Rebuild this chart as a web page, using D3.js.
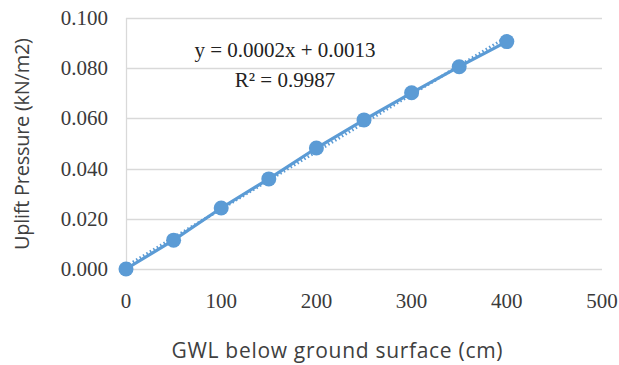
<!DOCTYPE html>
<html><head><meta charset="utf-8">
<script src="https://cdn.jsdelivr.net/npm/d3@7"></script>
<style>body{margin:0;background:#fff}svg{display:block}</style>
</head><body>
<svg id="c" width="619" height="365"></svg>
<script>
const gwl = [0, 50, 100, 150, 200, 250, 300, 350, 400];
const pressure = [0.000, 0.0115, 0.0243, 0.0359, 0.0482, 0.0594, 0.0702, 0.0806, 0.0906];
const xTicks = [0, 100, 200, 300, 400, 500];
const yTicks = [0, 0.02, 0.04, 0.06, 0.08, 0.1];
const eqLines = ["y = 0.0002x + 0.0013", "R² = 0.9987"];

const svg = d3.select("#c");
const x = d3.scaleLinear().domain([0, 500]).range([126, 602]);
const y = d3.scaleLinear().domain([0, 0.1]).range([269, 18]);
const color = "#5B9BD5";
const serif = "'Liberation Serif','Times New Roman',serif";
const sans = "'Open Sans','Noto Sans',sans-serif";

// gridlines
svg.append("g").selectAll("line").data(yTicks).join("line")
  .attr("x1", x(0)).attr("x2", x(500))
  .attr("y1", d => Math.round(y(d)) + 0.5).attr("y2", d => Math.round(y(d)) + 0.5)
  .attr("stroke", "#d9d9d9").attr("stroke-width", 1.3);
svg.append("line").attr("x1", x(0) + 0.5).attr("x2", x(0) + 0.5)
  .attr("y1", y(0.1)).attr("y2", y(0)).attr("stroke", "#d9d9d9").attr("stroke-width", 1.3);

// y tick labels
svg.append("g").selectAll("text").data(yTicks).join("text")
  .attr("x", 108).attr("y", d => y(d) + 7)
  .attr("text-anchor", "end").attr("font-family", serif).attr("font-size", 21).attr("fill", "#3a3a3a")
  .text(d => d3.format(".3f")(d));
// x tick labels
svg.append("g").selectAll("text").data(xTicks).join("text")
  .attr("x", d => x(d)).attr("y", 308)
  .attr("text-anchor", "middle").attr("font-family", serif).attr("font-size", 21).attr("fill", "#3a3a3a")
  .text(d => d);

// trendline (least squares)
const mx = d3.mean(gwl), my = d3.mean(pressure);
const slope = d3.sum(gwl.map((v, i) => (v - mx) * (pressure[i] - my))) / d3.sum(gwl.map(v => (v - mx) ** 2));
const icpt = my - slope * mx;
svg.append("line")
  .attr("x1", x(0)).attr("y1", y(icpt)).attr("x2", x(400)).attr("y2", y(icpt + slope * 400))
  .attr("stroke", color).attr("stroke-width", 3).attr("stroke-dasharray", "1.5,2.5");

// series line
const line = d3.line().x((d, i) => x(gwl[i])).y(d => y(d));
svg.append("path").datum(pressure).attr("d", line)
  .attr("fill", "none").attr("stroke", color).attr("stroke-width", 3.2);
svg.append("g").selectAll("circle").data(pressure).join("circle")
  .attr("cx", (d, i) => x(gwl[i])).attr("cy", d => y(d)).attr("r", 7.5).attr("fill", color);

// equation
svg.append("g").selectAll("text").data(eqLines).join("text")
  .attr("x", 285).attr("y", (d, i) => 57 + i * 30)
  .attr("text-anchor", "middle").attr("font-family", serif).attr("font-size", 21).attr("fill", "#222")
  .text(d => d);

// axis titles
svg.append("text").attr("x", 337).attr("y", 358).attr("text-anchor", "middle")
  .attr("font-family", sans).attr("font-size", 21).attr("fill", "#404040")
  .attr("textLength", 331).attr("lengthAdjust", "spacing")
  .text("GWL below ground surface (cm)");
svg.append("text").attr("transform", "translate(29,144) rotate(-90)").attr("text-anchor", "middle")
  .attr("font-family", sans).attr("font-size", 20).attr("fill", "#404040")
  .attr("textLength", 212).attr("lengthAdjust", "spacing")
  .text("Uplift Pressure (kN/m2)");
</script>
</body></html>
